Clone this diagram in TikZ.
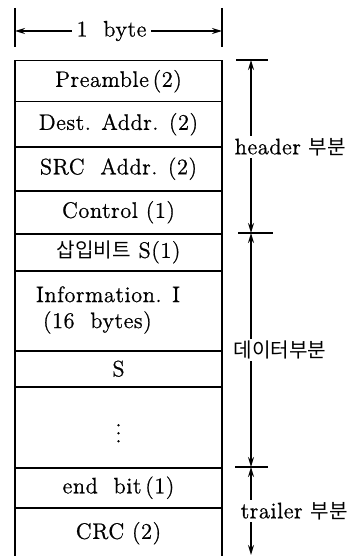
\documentclass[tikz,border=0pt]{standalone}
\usepackage{fontspec}
\newfontfamily\kr{Noto Sans CJK KR}[Scale=0.9]
\newfontfamily\spaced{Latin Modern Roman}[LetterSpace=2.5,FakeBold=0.8]
\usetikzlibrary{arrows.meta}
\begin{document}
\begin{tikzpicture}[x=0.5pt,y=-0.5pt, line width=0.75pt,
  >={Stealth[length=5pt,width=3pt]},
  txt/.style={font=\fontsize{11.2}{13}\spaced},
  cell/.style={draw, minimum width=103.5pt, inner sep=0pt, anchor=north, txt, align=center},
  lbl/.style={fill=white, anchor=west, inner sep=1pt, txt}]
\useasboundingbox (0,0) rectangle (350,556);
\clip (0,0) rectangle (350,556);
% top width indicator
\coordinate (lt0) at (15,8); \coordinate (lt1) at (15,47);
\coordinate (rt0) at (222,8); \coordinate (rt1) at (222,47);
\coordinate (lt) at (15,31); \coordinate (rt) at (222,31);
\draw (lt0) -- (lt1);
\draw (rt0) -- (rt1);
\node[txt, inner sep=2pt] (byte) at (111.5,31) {1~ byte};
\draw[->] (byte.west) -- (lt);
\draw[->] (byte.east) -- (rt);
% frame cells
\node[cell, minimum height=20.5pt] (pre) at (118.5,60) {Preamble\,(2)};
\node[cell, minimum height=22.5pt] (dest) at (118.5,101) {Dest. Addr. (2)};
\node[cell, minimum height=22pt] (src) at (118.5,146) {SRC~ Addr. (2)};
\node[cell, minimum height=21.5pt] (ctrl) at (118.5,190) {Control (1)};
\node[cell, minimum height=18.5pt] (ins) at (118.5,233) {{\kr 삽입비트} S(1)};
\node[cell, minimum height=40pt] (info) at (118.5,270) {};
\node[txt, align=left] (infot) at (108,310) {Information. I\\\hspace{3.5pt}(16~ bytes)};
\node[cell, minimum height=18pt] (s) at (118.5,350) {S};
\node[cell, minimum height=40.5pt] (dots) at (118.5,386) {$\vdots$};
\node[cell, minimum height=20pt] (endb) at (118.5,467) {end~ bit\,(1)};
\node[cell, minimum height=25.5pt] (crc) at (118.5,507) {CRC (2)};
% right dimension lines
\coordinate (h0) at (251,60); \coordinate (h1) at (251,233);
\coordinate (h2) at (251,467); \coordinate (h3) at (251,555);
\coordinate (k0a) at (236,60); \coordinate (k0b) at (268,60);
\coordinate (k1a) at (238,233); \coordinate (k1b) at (273,233);
\coordinate (k2a) at (235,467); \coordinate (k2b) at (268,467);
\draw (k0a) -- (k0b);
\draw (k1a) -- (k1b);
\draw (k2a) -- (k2b);
\draw[<->] (h0) -- (h1);
\draw[<->] (h1) -- (h2);
\draw[<->] (h2) -- (h3);
\node[lbl] (hdr) at (232,147) {header {\kr 부분}};
\node[lbl] (dat) at (231,350) {\kr 데이터부분};
\node[lbl] (trl) at (238,511) {trailer {\kr 부분}};
\end{tikzpicture}
\end{document}
